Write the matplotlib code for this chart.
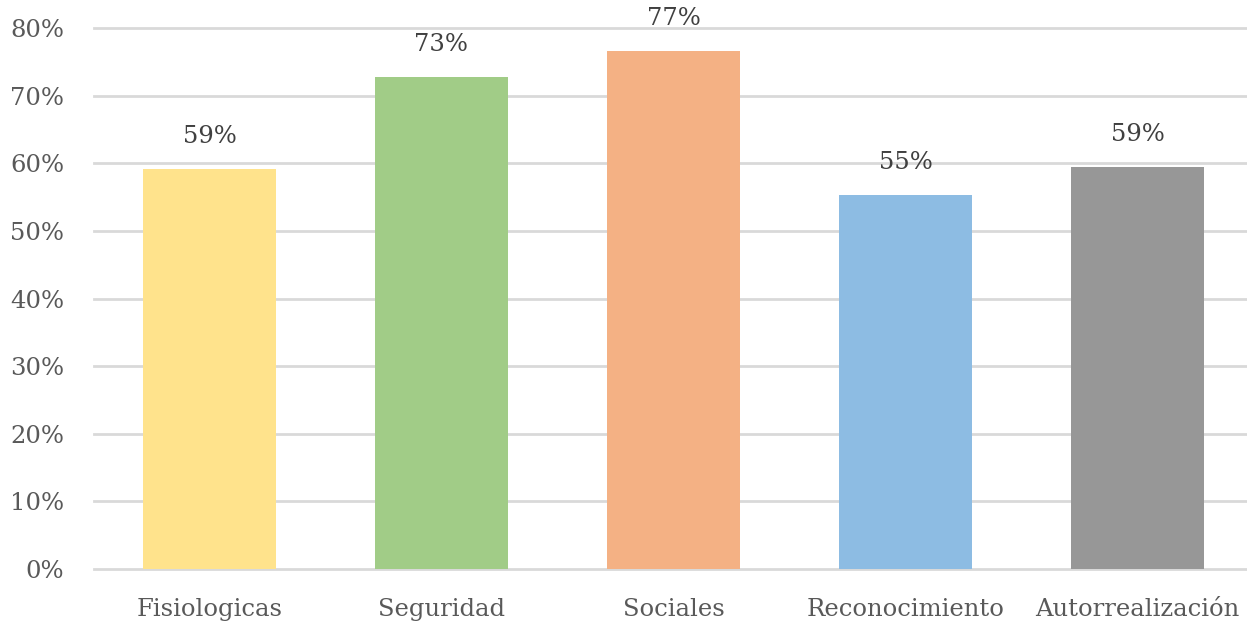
import matplotlib.pyplot as plt
from matplotlib.ticker import FuncFormatter

categories = ["Fisiologicas", "Seguridad", "Sociales", "Reconocimiento", "Autorrealización"]
values = [0.592, 0.728, 0.766, 0.553, 0.594]
colors = ["#FFE38C", "#A1CC87", "#F4B184", "#8DBCE3", "#979797"]
y_ticks = [0, 0.1, 0.2, 0.3, 0.4, 0.5, 0.6, 0.7, 0.8]

plt.rcParams["font.family"] = ["DejaVu Serif"]

fig = plt.figure(figsize=(12.47, 6.25), dpi=100)
ax = fig.add_axes([93.5 / 1247, 56 / 625, 1160 / 1247, 541 / 625])

x = list(range(len(categories)))
bars = ax.bar(x, values, width=0.573, color=colors, zorder=3)

for xi, v in zip(x, values):
    ax.annotate(f"{v * 100:.0f}%", (xi, v), xytext=(0, 15), textcoords="offset points",
                ha="center", va="bottom", fontsize=17.5, color="#404040")

ax.set_xlim(-0.5, 4.5)
ax.set_ylim(0, 0.8)
ax.set_yticks(y_ticks)
ax.yaxis.set_major_formatter(FuncFormatter(lambda v, _: f"{v * 100:.0f}%"))
ax.set_xticks(x)
ax.set_xticklabels(categories)
ax.grid(axis="y", color="#D9D9D9", linewidth=2, zorder=0)
for line in ax.get_ygridlines():
    line.set_clip_on(False)
ax.set_axisbelow(True)
ax.tick_params(axis="both", length=0, labelsize=17.5, labelcolor="#595959")
ax.tick_params(axis="y", pad=21)
ax.tick_params(axis="x", pad=21)
for spine in ax.spines.values():
    spine.set_visible(False)

fig.savefig("out.png", dpi=100)
